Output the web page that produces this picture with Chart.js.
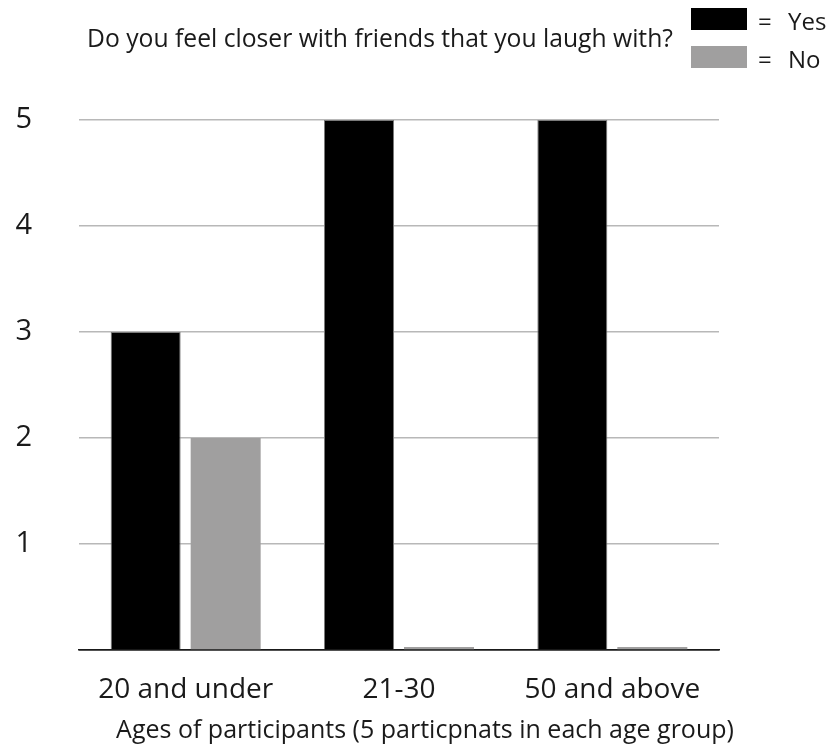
<!DOCTYPE html>
<html>
<head>
<meta charset="utf-8">
<script src="https://cdn.jsdelivr.net/npm/chart.js@4.4.0/dist/chart.umd.min.js"></script>
<style>
  html, body { margin: 0; padding: 0; background: #fff; }
  #wrap { width: 830px; height: 755px; }
</style>
</head>
<body>
<div id="wrap"><canvas id="myBarChart"></canvas></div>
<script>
// data
const ageGroups = ['20 and under', '21-30', '50 and above'];
const yesCounts = [3, 5, 5];
const noCounts = [2, 0, 0];
const seriesNames = ['Yes', 'No'];
const yTickValues = [0, 1, 2, 3, 4, 5];
const chartTitle = 'Do you feel closer with friends that you laugh with?';
const xAxisTitle = 'Ages of participants (5 particpnats in each age group)';

const FONT = '"Open Sans", "DejaVu Sans", sans-serif';
const TEXT = '#1a1a1a';

// title, key and axis caption sit where the original had them
const titleAndKey = {
  id: 'titleAndKey',
  afterDraw: function(chart) {
    const ctx = chart.ctx;
    ctx.save();
    ctx.fillStyle = TEXT;
    ctx.textBaseline = 'alphabetic';

    ctx.font = '24.7px ' + FONT;
    ctx.textAlign = 'center';
    ctx.fillText(chartTitle, 380, 47);

    ctx.font = '25px ' + FONT;
    ctx.fillText(xAxisTitle, 425, 738);

    ctx.font = '24px ' + FONT;
    ctx.textAlign = 'left';
    chart.data.datasets.forEach(function(ds, i) {
      const top = i === 0 ? 8 : 46;
      ctx.fillStyle = ds.backgroundColor;
      ctx.fillRect(691, top, 56, 22);
      ctx.fillStyle = TEXT;
      ctx.fillText('=', 758, top + 22);
      ctx.fillText(ds.label, 788, top + 22);
    });
    ctx.restore();
  }
};

const ctxBar = document.getElementById('myBarChart').getContext('2d');

new Chart(ctxBar, {
  type: 'bar',
  data: {
    labels: ageGroups,
    datasets: [{
      label: seriesNames[0],
      data: yesCounts,
      backgroundColor: '#000000',
      borderColor: '#7a7a7a',
      borderWidth: 1,
      categoryPercentage: 0.75,
      barPercentage: 0.875
    }, {
      label: seriesNames[1],
      data: noCounts,
      backgroundColor: '#a09f9f',
      borderWidth: 0,
      minBarLength: 3,
      categoryPercentage: 0.75,
      barPercentage: 0.875
    }]
  },
  options: {
    responsive: true,
    maintainAspectRatio: false,
    animation: false,
    layout: {
      padding: { top: 120, right: 111, left: 0, bottom: 0 }
    },
    scales: {
      x: {
        grid: { display: false },
        border: { display: true, color: '#1a1a1a', width: 1.5 },
        ticks: {
          color: TEXT,
          padding: 15,
          maxRotation: 0,
          font: { family: FONT, size: 28 }
        },
        afterFit: function(scale) { scale.height = 105; }
      },
      y: {
        min: 0,
        max: 5,
        border: { display: false },
        grid: {
          drawTicks: false,
          lineWidth: 1.5,
          color: function(c) { return c.tick && c.tick.value === 0 ? '#1a1a1a' : '#b8b8b8'; }
        },
        afterBuildTicks: function(scale) {
          scale.ticks = yTickValues.map(function(v) { return { value: v }; });
        },
        ticks: {
          color: TEXT,
          padding: 47,
          font: { family: FONT, size: 29 },
          callback: function(v) { return v === 0 ? '' : v; }
        },
        afterFit: function(scale) { scale.width = 79; }
      }
    },
    plugins: {
      legend: { display: false },
      title: { display: false },
      tooltip: { enabled: false }
    }
  },
  plugins: [titleAndKey]
});
</script>
</body>
</html>
